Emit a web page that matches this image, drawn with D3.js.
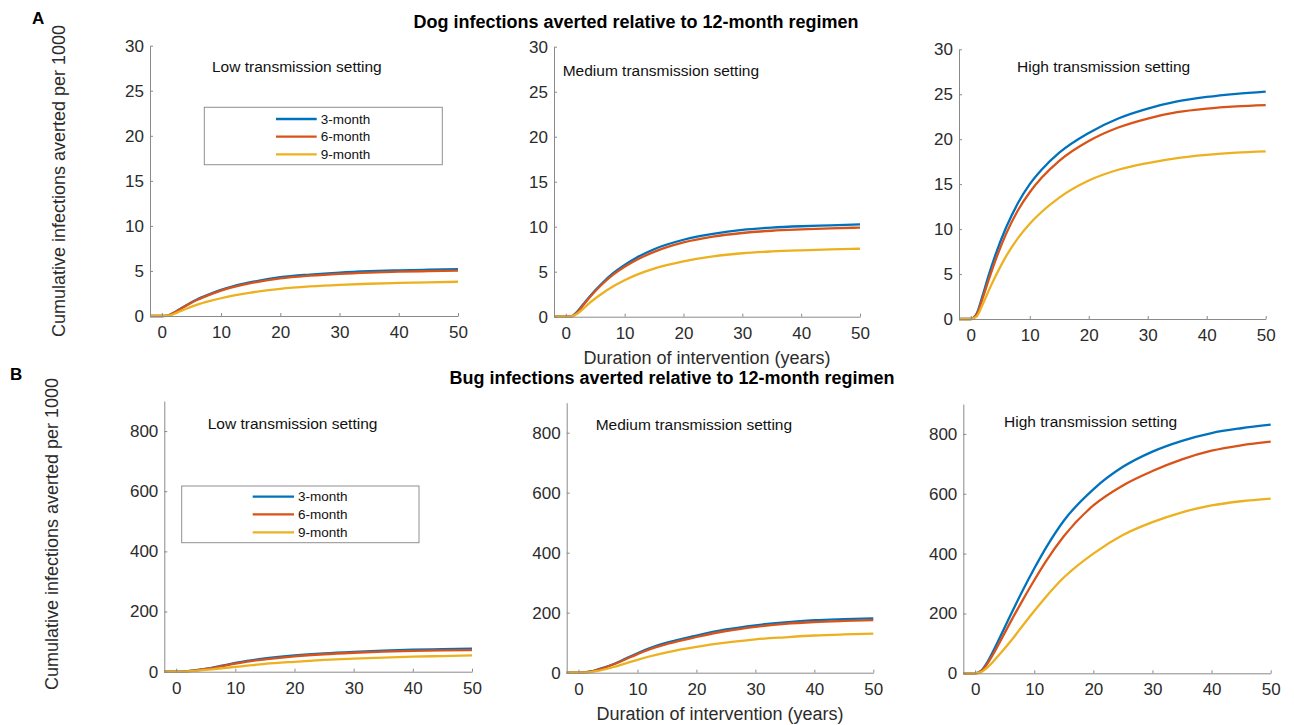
<!DOCTYPE html>
<html>
<head>
<meta charset="utf-8">
<script src="https://cdn.jsdelivr.net/npm/d3@7"></script>
<style>
  html, body { margin: 0; padding: 0; background: #fff; }
  svg { display: block; font-family: "Liberation Sans", Arial, Helvetica, sans-serif; }
</style>
</head>
<body>
<svg id="chart" width="1294" height="725"></svg>
<script>
// Duration of intervention (years) at which the cumulative curves are sampled
const years = [-2, 0, 1, 2, 3, 4, 6, 8, 10, 12, 15, 20, 25, 30, 35, 40, 45, 50];

const regimens = ["3-month", "6-month", "9-month"];
const settings = ["Low transmission setting", "Medium transmission setting", "High transmission setting"];

const xTicks = [0, 10, 20, 30, 40, 50];
const dogTicks = [0, 5, 10, 15, 20, 25, 30];
const bugTicks = [0, 200, 400, 600, 800];

// Dog infections averted per 1000 (relative to the 12-month regimen)
const dogLow3m = [0, 0, 0.05, 0.35, 0.75, 1.15, 1.85, 2.4, 2.9, 3.3, 3.75, 4.3, 4.6, 4.82, 4.97, 5.07, 5.14, 5.2];
const dogLow6m = [0, 0, 0.05, 0.33, 0.72, 1.1, 1.8, 2.35, 2.82, 3.2, 3.65, 4.17, 4.47, 4.68, 4.82, 4.92, 4.98, 5.03];
const dogLow9m = [0, 0, 0.03, 0.22, 0.5, 0.78, 1.27, 1.65, 1.97, 2.25, 2.6, 3.02, 3.28, 3.46, 3.58, 3.67, 3.74, 3.8];

const dogMed3m = [0, 0, 0.05, 0.6, 1.4, 2.2, 3.6, 4.8, 5.75, 6.55, 7.5, 8.55, 9.2, 9.65, 9.9, 10.05, 10.15, 10.25];
const dogMed6m = [0, 0, 0.05, 0.5, 1.3, 2.1, 3.5, 4.65, 5.55, 6.3, 7.2, 8.25, 8.9, 9.3, 9.55, 9.7, 9.82, 9.9];
const dogMed9m = [0, 0, 0.03, 0.35, 0.9, 1.5, 2.5, 3.35, 4.05, 4.65, 5.35, 6.15, 6.7, 7.05, 7.25, 7.38, 7.48, 7.55];

const dogHigh3m = [0, 0, 0.6, 2.6, 4.8, 6.8, 10.2, 12.9, 15.0, 16.6, 18.5, 20.7, 22.3, 23.4, 24.2, 24.7, 25.05, 25.3];
const dogHigh6m = [0, 0, 0.5, 2.3, 4.3, 6.2, 9.5, 12.1, 14.1, 15.7, 17.6, 19.8, 21.3, 22.3, 23.0, 23.4, 23.65, 23.8];
const dogHigh9m = [0, 0, 0.3, 1.6, 3.1, 4.5, 7.0, 9.0, 10.6, 11.9, 13.5, 15.4, 16.6, 17.35, 17.9, 18.25, 18.5, 18.65];

// Bug infections averted per 1000 (relative to the 12-month regimen)
const bugLow3m = [0, 0, 0.5, 2, 4, 7, 13, 21, 29, 36, 44, 54, 61, 66, 70, 73, 75, 77];
const bugLow6m = [0, 0, 0.5, 1.8, 3.7, 6.5, 12, 19.5, 27, 33.5, 41, 51, 58, 63, 67, 69.5, 71, 72];
const bugLow9m = [0, 0, 0.3, 1.2, 2.5, 4.3, 8, 12, 16, 20, 26, 33, 39, 43.5, 47, 50, 52, 54];

const bugMed3m = [0, 0, 1, 4, 9, 15, 29, 47, 65, 81, 100, 124, 144, 158, 168, 175, 178.5, 181];
const bugMed6m = [0, 0, 1, 3.5, 8.5, 14, 28, 45, 62, 78, 96, 119, 139, 153, 163, 169, 172.5, 175];
const bugMed9m = [0, 0, 0.5, 2, 5, 9, 19, 31, 43, 54, 68, 86, 100, 111, 118, 124, 127.5, 130];

const bugHigh3m = [0, 0, 8, 35, 72, 112, 195, 275, 350, 420, 510, 615, 690, 741, 777, 803, 819, 831];
const bugHigh6m = [0, 0, 7, 30, 62, 98, 172, 243, 311, 375, 458, 561, 628, 676, 715, 744, 762, 774];
const bugHigh9m = [0, 0, 4, 18, 38, 60, 107, 158, 208, 256, 320, 400, 462, 505, 538, 561, 575, 584];

const colors = ["#0072BD", "#D95319", "#EDB120"];

const svg = d3.select("#chart");
const font = '"Liberation Sans", Arial, Helvetica, sans-serif';

// Panel frames: left, right, top, bottom (pixels)
const panels = [
  { frame: [150, 458, 45.7, 316], yMax: 30, ticks: dogTicks, series: [dogLow3m, dogLow6m, dogLow9m], label: settings[0], lab: [212, 72], legend: { box: [204.3, 107.3, 442.3, 164.7], line: [276, 316.7], tx: 320.7, rows: [119, 136.7, 154.3] } },
  { frame: [554, 860, 46.7, 316.7], yMax: 30, ticks: dogTicks, series: [dogMed3m, dogMed6m, dogMed9m], label: settings[1], lab: [562.7, 75.7] },
  { frame: [959, 1265.7, 49.3, 319], yMax: 30, ticks: dogTicks, series: [dogHigh3m, dogHigh6m, dogHigh9m], label: settings[2], lab: [1017, 71.7] },
  { frame: [164.3, 472, 401, 671.7], yMax: 900, ticks: bugTicks, series: [bugLow3m, bugLow6m, bugLow9m], label: settings[0], lab: [207.7, 429], legend: { box: [181.7, 486, 419, 542.7], line: [252.7, 294], tx: 298, rows: [496.7, 514.3, 532.3] } },
  { frame: [566.7, 873.3, 402.7, 672.7], yMax: 900, ticks: bugTicks, series: [bugMed3m, bugMed6m, bugMed9m], label: settings[1], lab: [595.7, 430] },
  { frame: [963.3, 1270.7, 404, 673.3], yMax: 900, ticks: bugTicks, series: [bugHigh3m, bugHigh6m, bugHigh9m], label: settings[2], lab: [1004, 426.7] }
];

const axisColor = "#8a8a8a";
const textColor = "#2b2b2b";

panels.forEach(p => {
  const [l, r, t, b] = p.frame;
  const x = d3.scaleLinear().domain([-2, 50]).range([l, r]);
  const y = d3.scaleLinear().domain([0, p.yMax]).range([b, t]);
  const g = svg.append("g");

  // curves
  const line = d3.line()
    .x((d, i) => x(years[i]))
    .y(d => y(d))
    .curve(d3.curveMonotoneX);
  p.series.forEach((s, k) => {
    g.append("path")
      .datum(s)
      .attr("d", line)
      .attr("fill", "none")
      .attr("stroke", colors[k])
      .attr("stroke-width", 2.3)
      .attr("stroke-linejoin", "round");
  });

  // x axis with inward ticks
  const xa = g.append("g")
    .attr("transform", `translate(0,${b})`)
    .call(d3.axisBottom(x).tickValues(xTicks).tickSize(-3).tickSizeOuter(0).tickPadding(10));
  // y axis with inward ticks
  const ya = g.append("g")
    .attr("transform", `translate(${l},0)`)
    .call(d3.axisLeft(y).tickValues(p.ticks).tickSize(-3).tickSizeOuter(0).tickPadding(6));

  [xa, ya].forEach(a => {
    a.select(".domain").attr("stroke", axisColor).attr("stroke-width", 1);
    a.selectAll(".tick line").attr("stroke", axisColor).attr("stroke-width", 1);
    a.selectAll(".tick text").attr("fill", textColor).style("font-size", "17px").style("font-family", font);
  });

  // setting label inside the panel
  g.append("text")
    .attr("x", p.lab[0]).attr("y", p.lab[1])
    .attr("fill", "#111")
    .style("font-size", "15.5px")
    .text(p.label);

  // legend
  if (p.legend) {
    const L = p.legend;
    g.append("rect")
      .attr("x", L.box[0]).attr("y", L.box[1])
      .attr("width", L.box[2] - L.box[0]).attr("height", L.box[3] - L.box[1])
      .attr("fill", "#fff").attr("stroke", "#8f8f8f").attr("stroke-width", 1);
    regimens.forEach((name, k) => {
      g.append("line")
        .attr("x1", L.line[0]).attr("x2", L.line[1])
        .attr("y1", L.rows[k]).attr("y2", L.rows[k])
        .attr("stroke", colors[k]).attr("stroke-width", 2.3);
      g.append("text")
        .attr("x", L.tx).attr("y", L.rows[k])
        .attr("dy", "0.35em")
        .attr("fill", "#111")
        .style("font-size", "13.5px")
        .text(name);
    });
  }
});

// Section titles
svg.append("text")
  .attr("x", 636).attr("y", 28)
  .attr("text-anchor", "middle")
  .style("font-size", "18px").style("font-weight", "bold").attr("fill", "#000")
  .text("Dog infections averted relative to 12-month regimen");
svg.append("text")
  .attr("x", 672).attr("y", 384)
  .attr("text-anchor", "middle")
  .style("font-size", "18px").style("font-weight", "bold").attr("fill", "#000")
  .text("Bug infections averted relative to 12-month regimen");

// Panel letters
svg.append("text").attr("x", 32).attr("y", 24)
  .style("font-size", "17px").style("font-weight", "bold").text("A");
svg.append("text").attr("x", 10).attr("y", 380)
  .style("font-size", "17px").style("font-weight", "bold").text("B");

// Y axis titles
[[65, 181], [58, 534]].forEach(([cx, cy]) => {
  svg.append("text")
    .attr("transform", `translate(${cx},${cy}) rotate(-90)`)
    .attr("text-anchor", "middle")
    .attr("fill", textColor)
    .style("font-size", "18px")
    .text("Cumulative infections averted per 1000");
});

// X axis titles
[[707, 364], [720, 720]].forEach(([cx, cy]) => {
  svg.append("text")
    .attr("x", cx).attr("y", cy)
    .attr("text-anchor", "middle")
    .attr("fill", textColor)
    .style("font-size", "18px")
    .text("Duration of intervention (years)");
});
</script>
</body>
</html>
